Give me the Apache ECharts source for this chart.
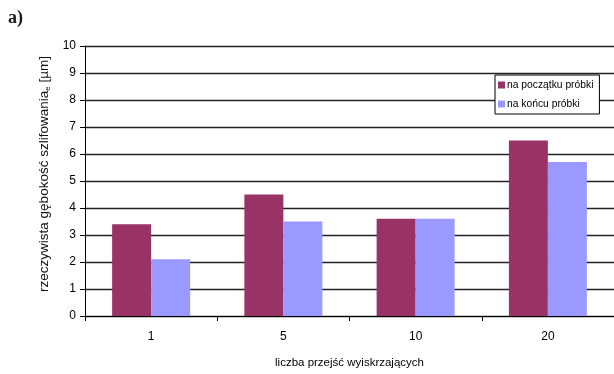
<!DOCTYPE html>
<html>
<head>
<meta charset="utf-8">
<script src="https://cdn.jsdelivr.net/npm/echarts@6/dist/echarts.min.js"></script>
<style>
  html, body { margin: 0; padding: 0; background: #fff; }
  #chart { width: 614px; height: 374px; }
</style>
</head>
<body>
<div id="chart"></div>
<script>
// Number of spark-out passes (categories)
const categories = ['1', '5', '10', '20'];
// Actual grinding depth at the start of the sample [µm]
const startValues = [3.4, 4.5, 3.6, 6.5];
// Actual grinding depth at the end of the sample [µm]
const endValues = [2.1, 3.5, 3.6, 5.7];
const yTicks = { min: 0, max: 10, interval: 1 };
const seriesNames = ['na początku próbki', 'na końcu próbki'];

const chart = echarts.init(document.getElementById('chart'), null, { renderer: 'canvas' });
const font = 'Liberation Sans, Arial, sans-serif';

chart.setOption({
  animation: false,
  backgroundColor: '#ffffff',
  graphic: [{
    type: 'text',
    left: 8,
    top: 9,
    style: { text: 'a)', font: 'bold 18px "Liberation Serif", serif', fill: '#1a1a1a' }
  }],
  grid: { left: 85, right: -7, top: 46, bottom: 52.5, containLabel: false },
  legend: {
    orient: 'vertical',
    left: 495,
    top: 75,
    padding: [5, 6, 5, 3],
    itemGap: 9,
    itemWidth: 7,
    itemHeight: 7,
    icon: 'rect',
    borderColor: '#000',
    borderWidth: 1,
    backgroundColor: '#fff',
    textStyle: { fontFamily: font, fontSize: 10.3, color: '#000', padding: [0, 0, 0, -3] },
    data: seriesNames
  },
  xAxis: {
    type: 'category',
    data: categories,
    name: 'liczba przejść wyiskrzających',
    nameLocation: 'middle',
    nameGap: 41,
    nameTextStyle: { fontFamily: font, fontSize: 11.5, color: '#000' },
    axisLine: { lineStyle: { color: '#000', width: 1 } },
    axisTick: { show: true, length: 5, lineStyle: { color: '#000' } },
    axisLabel: { fontFamily: font, fontSize: 12, color: '#000', margin: 15 },
    splitLine: { show: false }
  },
  yAxis: {
    type: 'value',
    min: yTicks.min,
    max: yTicks.max,
    interval: yTicks.interval,
    name: '{t|rzeczywista gębokość szlifowania}{s|e}{t| [µm]}',
    nameLocation: 'middle',
    nameGap: 33,
    nameRotate: 90,
    nameTextStyle: {
      padding: [0, 0, 0, 14],
      rich: {
        t: { fontFamily: font, fontSize: 13.5, color: '#111' },
        s: { fontFamily: font, fontSize: 8, color: '#111', verticalAlign: 'bottom', padding: [5, 0, 0, 0] }
      }
    },
    axisLine: { show: true, lineStyle: { color: '#000', width: 1 } },
    axisTick: { show: true, length: 5, lineStyle: { color: '#000' } },
    axisLabel: { fontFamily: font, fontSize: 12, color: '#000', margin: 9 },
    splitLine: { show: true, lineStyle: { color: '#222', width: 1.4 } }
  },
  series: [
    {
      name: seriesNames[0],
      type: 'bar',
      data: startValues,
      barWidth: 39,
      barGap: '0%',
      itemStyle: { color: '#993366' }
    },
    {
      name: seriesNames[1],
      type: 'bar',
      data: endValues,
      barWidth: 39,
      barGap: '0%',
      itemStyle: { color: '#9999ff' }
    }
  ]
});
</script>
</body>
</html>
